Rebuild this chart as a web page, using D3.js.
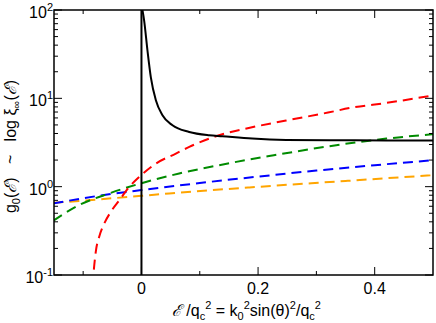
<!DOCTYPE html>
<html>
<head>
<meta charset="utf-8">
<script src="https://cdn.jsdelivr.net/npm/d3@7"></script>
<style>
  body { margin: 0; background: white; }
  text { font-family: "Liberation Sans", Arial, sans-serif; fill: black; }
</style>
</head>
<body>
<svg id="chart"></svg>
<script>
// curves: x = E/qc^2, y = g0(E)
let blackX = [0.0017, 0.0046, 0.0103, 0.0161, 0.0247, 0.036, 0.0532, 0.0819, 0.116, 0.1385, 0.19, 0.248, 0.322, 0.42, 0.5]
let blackY = [100, 76, 34.8, 17.3, 9.5, 6.43, 4.95, 4.16, 3.82, 3.72, 3.5, 3.38, 3.35, 3.34, 3.34]

let redX = [-0.0855, -0.0824, -0.078, -0.0726, -0.064, -0.0525, -0.038, -0.021, 0, 0.025, 0.059, 0.082, 0.133, 0.184, 0.248, 0.32, 0.362, 0.42, 0.5]
let redY = [0.05, 0.1, 0.19, 0.27, 0.38, 0.52, 0.70, 0.99, 1.36, 1.83, 2.37, 2.82, 3.82, 4.62, 5.6, 6.9, 7.87, 8.87, 10.8]

let greenX = [-0.151, -0.107, -0.0555, 0, 0.0647, 0.133, 0.185, 0.219, 0.322, 0.42, 0.5]
let greenY = [0.413, 0.618, 0.838, 1.095, 1.41, 1.75, 2.03, 2.22, 2.87, 3.5, 3.92]

let blueX = [-0.151, -0.1, -0.05, 0, 0.1, 0.2, 0.3, 0.4, 0.5]
let blueY = [0.645, 0.74, 0.83, 0.915, 1.1, 1.3, 1.52, 1.75, 1.99]

let orangeX = [-0.151, -0.107, 0, 0.0476, 0.185, 0.35, 0.5]
let orangeY = [0.656, 0.69, 0.787, 0.838, 0.98, 1.16, 1.35]

let xMajor = [0, 0.2, 0.4]
let xLabels = ["0", "0.2", "0.4"]
let xMinor = [-0.1, 0.1, 0.3]
let yMajor = [0.1, 1, 10, 100]
let yExponents = ["-1", "0", "1", "2"]

let width = 436, height = 323
let margin = {left: 54, right: 3, top: 10, bottom: 48}
let pw = width - margin.left - margin.right
let ph = height - margin.top - margin.bottom

let svg = d3.select("#chart").attr("width", width).attr("height", height)

let x = d3.scaleLinear().domain([-0.15, 0.5]).range([margin.left, margin.left + pw])
let y = d3.scaleLog().domain([0.1, 100]).range([margin.top + ph, margin.top])

// minor y ticks 2..9 in each decade
let yMinor = []
for (let i = 0; i < yMajor.length - 1; i++) {
    for (let k = 2; k <= 9; k++) yMinor.push(yMajor[i] * k)
}

svg.append("clipPath").attr("id", "clip")
  .append("rect")
  .attr("x", margin.left).attr("y", margin.top)
  .attr("width", pw).attr("height", ph)

let plot = svg.append("g").attr("clip-path", "url(#clip)")

let line = d3.line()
  .x(d => x(d[0]))
  .y(d => y(d[1]))
  .curve(d3.curveMonotoneX)

let series = [
  {xs: orangeX, ys: orangeY, color: "#ffa500", dash: "10,6"},
  {xs: blueX, ys: blueY, color: "#0000ff", dash: "10,6"},
  {xs: greenX, ys: greenY, color: "#008b00", dash: "10,6"},
  {xs: redX, ys: redY, color: "#ff0000", dash: "10,6"},
  {xs: blackX, ys: blackY, color: "black", dash: null}
]

series.forEach(s => {
  plot.append("path")
    .datum(s.xs.map((v, i) => [v, s.ys[i]]))
    .attr("d", line)
    .attr("fill", "none")
    .attr("stroke", s.color)
    .attr("stroke-width", 2)
    .attr("stroke-dasharray", s.dash)
})

// vertical line at zero
plot.append("line")
  .attr("x1", x(0)).attr("x2", x(0))
  .attr("y1", margin.top).attr("y2", margin.top + ph)
  .attr("stroke", "black").attr("stroke-width", 2)

// ticks on all four sides, pointing inward
function ticks(vals, len) {
  svg.append("g").selectAll("line").data(vals).enter().append("line")
    .attr("x1", d => x(d)).attr("x2", d => x(d))
    .attr("y1", margin.top + ph).attr("y2", margin.top + ph - len)
    .attr("stroke", "black").attr("stroke-width", 1)
  svg.append("g").selectAll("line").data(vals).enter().append("line")
    .attr("x1", d => x(d)).attr("x2", d => x(d))
    .attr("y1", margin.top).attr("y2", margin.top + len)
    .attr("stroke", "black").attr("stroke-width", 1)
}
ticks(xMajor, 8)
ticks(xMinor, 4)

function yticks(vals, len) {
  svg.append("g").selectAll("line").data(vals).enter().append("line")
    .attr("y1", d => y(d)).attr("y2", d => y(d))
    .attr("x1", margin.left).attr("x2", margin.left + len)
    .attr("stroke", "black").attr("stroke-width", 1)
  svg.append("g").selectAll("line").data(vals).enter().append("line")
    .attr("y1", d => y(d)).attr("y2", d => y(d))
    .attr("x1", margin.left + pw).attr("x2", margin.left + pw - len)
    .attr("stroke", "black").attr("stroke-width", 1)
}
yticks(yMajor, 8)
yticks(yMinor, 4)

// frame
svg.append("rect")
  .attr("x", margin.left).attr("y", margin.top)
  .attr("width", pw).attr("height", ph)
  .attr("fill", "none").attr("stroke", "black").attr("stroke-width", 1.5)

// x tick labels
svg.append("g").selectAll("text").data(xMajor).enter().append("text")
  .attr("x", d => x(d))
  .attr("y", margin.top + ph + 19)
  .attr("text-anchor", "middle")
  .attr("font-size", 16)
  .text((d, i) => xLabels[i])

// y tick labels 10^n
let yl = svg.append("g").selectAll("text").data(yMajor).enter().append("text")
  .attr("x", margin.left - 1)
  .attr("y", d => y(d) + 8)
  .attr("text-anchor", "end")
  .attr("font-size", 16)
yl.append("tspan").text("10")
yl.append("tspan").attr("font-size", 11).attr("dy", -7).text((d, i) => yExponents[i])

// x axis title
let xt = svg.append("text")
  .attr("x", x(0.18)).attr("y", 316)
  .attr("text-anchor", "middle")
  .attr("font-size", 16)
xt.append("tspan").attr("font-family", "DejaVu Serif, serif").attr("font-style", "italic").text("ℰ")
xt.append("tspan").text("\u00a0/q")
xt.append("tspan").attr("font-size", 11).attr("dy", 4).text("c")
xt.append("tspan").attr("font-size", 11).attr("dy", -11).text("2")
xt.append("tspan").attr("dy", 7).text("\u00a0= k")
xt.append("tspan").attr("font-size", 11).attr("dy", 4).text("0")
xt.append("tspan").attr("font-size", 11).attr("dy", -11).text("2")
xt.append("tspan").attr("dy", 7).text("sin(θ)")
xt.append("tspan").attr("font-size", 11).attr("dy", -7).text("2")
xt.append("tspan").attr("dy", 7).text("/q")
xt.append("tspan").attr("font-size", 11).attr("dy", 4).text("c")
xt.append("tspan").attr("font-size", 11).attr("dy", -11).text("2")

// y axis title
let yt = svg.append("text")
  .attr("transform", `translate(16,${margin.top + ph / 2 + 4}) rotate(-90)`)
  .attr("text-anchor", "middle")
  .attr("font-size", 16)
yt.append("tspan").text("g")
yt.append("tspan").attr("font-size", 11).attr("dy", 4).text("0")
yt.append("tspan").attr("dy", -4).text("(")
yt.append("tspan").attr("font-family", "DejaVu Serif, serif").attr("font-style", "italic").text("ℰ")
yt.append("tspan").text(")\u00a0\u00a0\u00a0~\u00a0\u00a0\u00a0log\u00a0ξ")
yt.append("tspan").attr("font-size", 11).attr("dy", 4).text("∞")
yt.append("tspan").attr("dy", -4).text("(")
yt.append("tspan").attr("font-family", "DejaVu Serif, serif").attr("font-style", "italic").text("ℰ")
yt.append("tspan").text(")")
</script>
</body>
</html>
